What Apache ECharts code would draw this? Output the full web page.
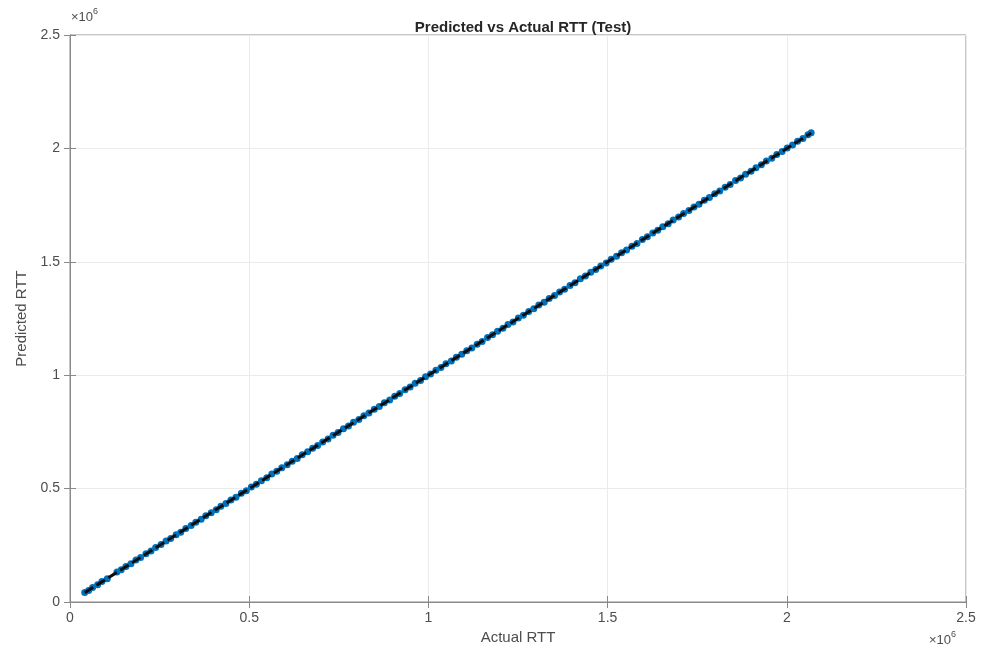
<!DOCTYPE html>
<html>
<head>
<meta charset="utf-8">
<script src="https://cdn.jsdelivr.net/npm/echarts@6/dist/echarts.min.js"></script>
<style>
  html, body { margin: 0; padding: 0; background: #fff; }
  #chart { width: 981px; height: 653px; }
</style>
</head>
<body>
<div id="chart"></div>
<script>
// Test-set RTT: actual values and model predictions (raw units)
const actualRTT = [
  41000, 52000, 63000, 77000, 89000, 104000, 131000, 143000, 156000, 170000,
  184000, 197000, 212000, 226000, 239000, 254000, 268000, 281000, 296000, 309000,
  323000, 338000, 351000, 366000, 379000, 394000, 408000, 421000, 435000, 449000, 463000,
  478000, 492000, 506000, 520000, 534000, 549000, 563000, 577000, 591000, 606000,
  620000, 634000, 648000, 663000, 677000, 691000, 705000, 720000, 734000, 748000,
  763000, 777000, 791000, 806000, 820000, 834000, 849000, 863000, 877000, 892000,
  906000, 920000, 935000, 949000, 963000, 978000, 992000, 1006000, 1021000, 1035000,
  1049000, 1064000, 1078000, 1093000, 1107000, 1121000, 1136000, 1150000, 1165000, 1179000,
  1193000, 1208000, 1222000, 1236000, 1251000, 1265000, 1280000, 1294000, 1308000, 1323000,
  1337000, 1352000, 1366000, 1380000, 1395000, 1409000, 1424000, 1438000, 1453000, 1467000,
  1481000, 1496000, 1510000, 1525000, 1539000, 1553000, 1568000, 1582000, 1597000, 1611000,
  1626000, 1640000, 1654000, 1669000, 1683000, 1698000, 1712000, 1727000, 1741000, 1755000,
  1770000, 1784000, 1799000, 1813000, 1828000, 1842000, 1857000, 1871000, 1885000, 1900000,
  1914000, 1929000, 1943000, 1958000, 1972000, 1987000, 2001000, 2016000, 2030000, 2045000,
  2059000, 2068000
];
const predictedRTT = [
  42000, 51000, 64000, 76000, 90000, 103000, 132000, 142000, 157000, 169000,
  185000, 196000, 213000, 225000, 240000, 253000, 269000, 280000, 297000, 308000,
  324000, 337000, 352000, 365000, 380000, 393000, 407000, 422000, 434000, 450000, 462000,
  479000, 491000, 507000, 519000, 535000, 548000, 564000, 576000, 592000, 605000,
  621000, 633000, 649000, 662000, 678000, 690000, 706000, 719000, 735000, 747000,
  764000, 776000, 792000, 805000, 821000, 833000, 850000, 862000, 878000, 891000,
  907000, 919000, 936000, 948000, 964000, 977000, 993000, 1005000, 1022000, 1034000,
  1050000, 1063000, 1079000, 1092000, 1108000, 1120000, 1137000, 1149000, 1166000, 1178000,
  1194000, 1207000, 1223000, 1235000, 1252000, 1264000, 1281000, 1293000, 1309000, 1322000,
  1338000, 1351000, 1367000, 1379000, 1396000, 1408000, 1425000, 1437000, 1454000, 1466000,
  1482000, 1495000, 1511000, 1524000, 1540000, 1552000, 1569000, 1581000, 1598000, 1610000,
  1627000, 1639000, 1655000, 1668000, 1684000, 1697000, 1713000, 1726000, 1742000, 1754000,
  1771000, 1783000, 1800000, 1812000, 1829000, 1841000, 1858000, 1870000, 1886000, 1899000,
  1915000, 1928000, 1944000, 1957000, 1973000, 1986000, 2002000, 2015000, 2031000, 2044000,
  2060000, 2069000
];
// Ideal y = x reference segment over the data range
const idealLine = [[41000, 41000], [2068000, 2068000]];
const axisMax = 2500000;
const tickStep = 500000;

const scatterData = actualRTT.map((a, i) => [a, predictedRTT[i]]);

const chart = echarts.init(document.getElementById('chart'), null, { renderer: 'canvas' });
const FONT = 'Liberation Sans, Arial, sans-serif';
const tickLabelStyle = { color: '#4d4d4d', fontSize: 14, fontFamily: FONT };
const axisLineStyle = { color: '#8a8a8a', width: 1 };
const gridLineStyle = { color: '#ebebeb', width: 1 };
const fmt = v => String(v / 1e6);
const exponentRich = {
  b: { fontSize: 13, fill: '#4d4d4d', fontFamily: FONT, padding: [6, 0, 0, 0] },
  s: { fontSize: 9, fill: '#4d4d4d', fontFamily: FONT, padding: [0, 0, 6, 0] }
};

chart.setOption({
  animation: false,
  backgroundColor: '#ffffff',
  title: {
    text: 'Predicted vs Actual RTT (Test)',
    left: 518, top: 15, textAlign: 'center',
    textStyle: { fontSize: 15, fontWeight: 'bold', color: '#262626', fontFamily: FONT }
  },
  grid: { left: 70, right: 15, top: 35, bottom: 51, show: true, borderColor: '#8a8a8a', borderWidth: 1, backgroundColor: 'transparent' },
  xAxis: [{
    type: 'value', min: 0, max: axisMax, interval: tickStep,
    name: 'Actual RTT', nameLocation: 'middle', nameGap: 24,
    nameTextStyle: { color: '#4d4d4d', fontSize: 15, fontFamily: FONT },
    axisLine: { show: true, lineStyle: axisLineStyle },
    axisTick: { show: true, inside: true, length: 6, lineStyle: axisLineStyle },
    axisLabel: Object.assign({ formatter: fmt, margin: 9 }, tickLabelStyle),
    splitLine: { show: true, lineStyle: gridLineStyle }
  }, {
    type: 'value', position: 'top', min: 0, max: axisMax, interval: tickStep,
    axisLine: { show: true, lineStyle: axisLineStyle },
    axisTick: { show: true, inside: true, length: 6, lineStyle: axisLineStyle },
    axisLabel: { show: false }, splitLine: { show: false }
  }],
  yAxis: [{
    type: 'value', min: 0, max: axisMax, interval: tickStep,
    name: 'Predicted RTT', nameLocation: 'middle', nameGap: 40,
    nameTextStyle: { color: '#4d4d4d', fontSize: 15, fontFamily: FONT },
    axisLine: { show: true, lineStyle: axisLineStyle },
    axisTick: { show: true, inside: true, length: 6, lineStyle: axisLineStyle },
    axisLabel: Object.assign({ formatter: fmt, margin: 10 }, tickLabelStyle),
    splitLine: { show: true, lineStyle: gridLineStyle }
  }, {
    type: 'value', position: 'right', min: 0, max: axisMax, interval: tickStep,
    axisLine: { show: true, lineStyle: axisLineStyle },
    axisTick: { show: true, inside: true, length: 6, lineStyle: axisLineStyle },
    axisLabel: { show: false }, splitLine: { show: false }
  }],
  series: [{
    type: 'scatter',
    data: scatterData,
    symbol: 'circle',
    symbolSize: 7,
    itemStyle: { color: '#0072BD', opacity: 1 },
    z: 2
  }, {
    type: 'line',
    data: idealLine,
    symbol: 'none',
    lineStyle: { color: '#0d0d0d', width: 3, type: [10, 4] },
    z: 3
  }],
  graphic: [{
    type: 'text', left: 71, top: 7,
    style: { text: '{b|×10}{s|6}', rich: exponentRich }
  }, {
    type: 'text', left: 929, top: 630,
    style: { text: '{b|×10}{s|6}', rich: exponentRich }
  }]
});
</script>
</body>
</html>
